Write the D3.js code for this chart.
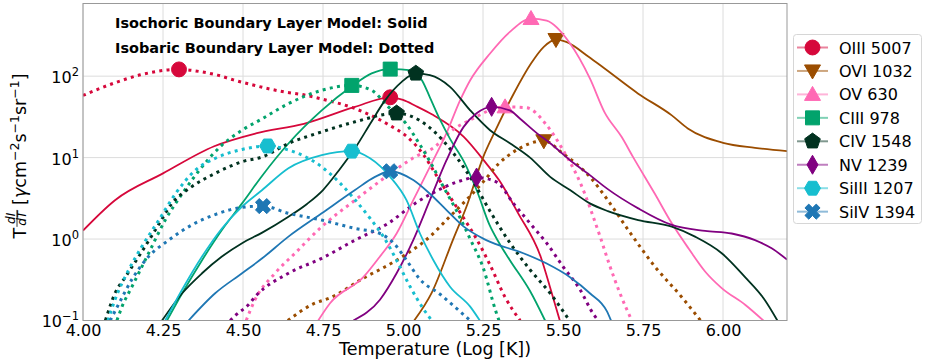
<!DOCTYPE html>
<html>
<head>
<meta charset="utf-8">
<script src="https://cdn.jsdelivr.net/npm/d3@7"></script>
<style>
  body { margin: 0; background: #fff; }
  svg { font-family: "DejaVu Sans", sans-serif; }
</style>
</head>
<body>
<div id="chart"></div>
<script>
// ---- data: [log T, T dI/dT] ----
const ions = ['OIII 5007', 'OVI 1032', 'OV 630', 'CIII 978', 'CIV 1548', 'NV 1239', 'SiIII 1207', 'SiIV 1394'];

const oiiiSolid = [[4.00,1.27],[4.10,3.0],[4.25,6.4],[4.41,13.8],[4.54,19.8],[4.69,26],[4.85,42],[4.96,55],[5.00,51],[5.04,43],[5.09,34],[5.19,18],[5.26,8.5],[5.30,5.3],[5.36,2.07],[5.43,0.61],[5.465,0.216],[5.49,0.1]];
const oiiiDotted = [[4.00,58],[4.10,83],[4.18,104],[4.30,121],[4.37,113],[4.42,103],[4.47,90],[4.52,80],[4.58,70],[4.63,64],[4.69,59],[4.75,52],[4.85,40],[4.95,26],[5.02,17],[5.063,11],[5.105,6.0],[5.147,3.3],[5.19,1.8],[5.23,1.0],[5.27,0.5],[5.32,0.19],[5.366,0.1]];

const oviSolid = [[5.035,0.1],[5.09,0.22],[5.157,1.0],[5.20,2.6],[5.25,10],[5.29,22],[5.345,60],[5.40,143],[5.44,229],[5.478,282],[5.51,263],[5.58,173],[5.63,124],[5.735,61],[5.84,33],[5.89,22.8],[6.00,15.2],[6.10,13.2],[6.20,12.0]];
const oviDotted = [[4.64,0.1],[4.72,0.16],[4.772,0.19],[4.876,0.33],[4.98,0.55],[5.084,1.07],[5.147,1.9],[5.19,2.8],[5.25,5.0],[5.30,8.5],[5.355,12.4],[5.44,16.1],[5.50,11.2],[5.584,5.8],[5.64,3.0],[5.704,1.29],[5.787,0.46],[5.87,0.196],[5.93,0.1]];

const ovSolid = [[4.735,0.1],[4.772,0.163],[4.876,0.34],[4.928,0.61],[4.98,1.17],[5.032,3.0],[5.084,7.7],[5.136,20],[5.178,50],[5.21,89],[5.272,190],[5.334,350],[5.40,510],[5.449,480],[5.522,252],[5.584,94],[5.63,36],[5.683,18],[5.72,10],[5.787,3.6],[5.84,1.56],[5.892,0.77],[5.944,0.40],[5.996,0.25],[6.07,0.155],[6.126,0.1]];
const ovDotted = [[4.51,0.1],[4.5375,0.18],[4.60,0.38],[4.6625,0.67],[4.746,1.42],[4.85,3.0],[4.954,6.1],[5.0375,10.2],[5.1,13.6],[5.147,20.7],[5.21,29],[5.319,42],[5.386,41],[5.449,25],[5.50,12.4],[5.553,5.0],[5.616,1.07],[5.647,0.46],[5.678,0.216],[5.715,0.1]];

const ciiiSolid = [[4.2625,0.1],[4.31,0.216],[4.372,0.55],[4.434,1.29],[4.497,2.74],[4.56,6.0],[4.642,14.9],[4.746,38],[4.84,75],[4.902,108],[4.96,122],[5.027,118],[5.06,88],[5.084,55],[5.116,29],[5.147,17],[5.19,9],[5.23,4.0],[5.27,1.5],[5.30,0.9],[5.334,0.55],[5.397,0.23],[5.444,0.1]];
const ciiiDotted = [[4.106,0.1],[4.122,0.148],[4.153,0.26],[4.205,0.67],[4.257,1.71],[4.31,3.6],[4.372,7.7],[4.434,14.2],[4.497,21.7],[4.56,30],[4.642,46],[4.746,67],[4.84,77],[4.902,67],[4.954,42],[5.01,26],[5.05,15],[5.084,9],[5.126,4.4],[5.168,2.2],[5.21,1.0],[5.25,0.45],[5.29,0.13],[5.30,0.1]];

const civSolid = [[4.247,0.1],[4.31,0.216],[4.372,0.38],[4.434,0.61],[4.497,0.89],[4.56,1.2],[4.642,1.88],[4.70,2.7],[4.75,4.0],[4.80,7.0],[4.85,13],[4.90,27],[4.94,48],[4.996,85],[5.04,108],[5.084,103],[5.147,74],[5.21,38],[5.272,21.7],[5.334,15],[5.397,10],[5.46,5.8],[5.522,4.0],[5.584,2.74],[5.64,2.2],[5.735,1.71],[5.84,1.42],[5.9125,1.07],[5.996,0.67],[6.069,0.34],[6.13,0.18],[6.17,0.1]];
const civDotted = [[4.07,0.1],[4.10,0.216],[4.132,0.34],[4.174,0.61],[4.226,1.29],[4.278,2.74],[4.34,4.4],[4.413,6.4],[4.497,8.9],[4.56,10.2],[4.642,14.9],[4.746,20.7],[4.85,27.5],[4.98,35],[5.074,25],[5.126,16],[5.168,10],[5.22,5],[5.272,2.2],[5.334,0.9],[5.397,0.42],[5.46,0.216],[5.52,0.1]];

const nvSolid = [[4.845,0.1],[4.928,0.18],[4.98,0.38],[5.032,0.97],[5.084,3.0],[5.136,9.3],[5.19,24],[5.23,35],[5.277,42],[5.334,38],[5.366,30],[5.418,20],[5.46,15],[5.522,9.3],[5.584,6.1],[5.64,4.1],[5.735,2.38],[5.84,1.49],[5.944,1.26],[6.027,1.17],[6.10,0.97],[6.152,0.77],[6.20,0.56]];
const nvDotted = [[4.46,0.1],[4.478,0.117],[4.516,0.155],[4.54,0.2],[4.642,0.38],[4.746,0.58],[4.85,0.97],[4.954,1.56],[5.0375,2.74],[5.1,3.8],[5.168,5.0],[5.23,5.7],[5.293,5.0],[5.345,2.74],[5.397,1.56],[5.449,0.89],[5.50,0.46],[5.553,0.24],[5.595,0.12],[5.61,0.1]];

const siiiiSolid = [[4.257,0.1],[4.31,0.24],[4.372,0.61],[4.434,1.35],[4.497,2.5],[4.56,4.0],[4.642,7.4],[4.746,10.7],[4.84,12],[4.897,9.8],[4.96,5.8],[5.011,3.0],[5.053,1.17],[5.095,0.55],[5.147,0.26],[5.21,0.148],[5.24,0.1]];
const siiiiDotted = [[4.078,0.1],[4.10,0.18],[4.143,0.42],[4.184,0.81],[4.237,1.71],[4.289,3.6],[4.351,7.0],[4.413,9.8],[4.497,12.6],[4.577,13.9],[4.642,12.4],[4.746,7.7],[4.80,5.0],[4.845,3.2],[4.897,1.8],[4.94,1.05],[4.98,0.55],[5.02,0.27],[5.063,0.14],[5.09,0.1]];

const sivSolid = [[4.33,0.1],[4.413,0.216],[4.497,0.38],[4.56,0.58],[4.642,1.07],[4.746,2.07],[4.85,4.0],[4.9125,5.8],[4.96,6.8],[5.032,5.3],[5.084,3.6],[5.136,2.27],[5.19,1.42],[5.26,0.97],[5.376,0.67],[5.449,0.50],[5.522,0.34],[5.584,0.216],[5.637,0.13],[5.65,0.1]];
const sivDotted = [[4.085,0.1],[4.11,0.155],[4.153,0.32],[4.205,0.61],[4.268,0.97],[4.34,1.49],[4.413,2.0],[4.497,2.45],[4.5625,2.54],[4.642,2.07],[4.746,1.71],[4.85,1.35],[4.928,1.17],[4.98,0.81],[5.011,0.55],[5.053,0.32],[5.116,0.21],[5.168,0.14],[5.21,0.1]];

const xTicks = [4.00, 4.25, 4.50, 4.75, 5.00, 5.25, 5.50, 5.75, 6.00];
const yTicks = [0.1, 1, 10, 100];
const titleLines = ['Isochoric Boundary Layer Model: Solid', 'Isobaric Boundary Layer Model: Dotted'];

// styles per ion
const colors = ['#d6083b', '#9b4d00', '#ff69b4', '#02a36c', '#013220', '#800080', '#17becf', '#1f77b4'];
const shapes = ['circle', 'triDown', 'triUp', 'square', 'pentagon', 'thinDiamond', 'hexagon', 'xFilled'];

const series = ions.map((name, i) => ({
  name,
  color: colors[i],
  shape: shapes[i],
  solid: [oiiiSolid, oviSolid, ovSolid, ciiiSolid, civSolid, nvSolid, siiiiSolid, sivSolid][i],
  dotted: [oiiiDotted, oviDotted, ovDotted, ciiiDotted, civDotted, nvDotted, siiiiDotted, sivDotted][i]
}));

const width = 926, height = 362;
const plot = { left: 83, right: 787, top: 3.5, bottom: 320.5 };

const svg = d3.select('#chart').append('svg')
  .attr('width', width)
  .attr('height', height);

const x = d3.scaleLinear().domain([4.0, 6.2]).range([plot.left, plot.right]);
const y = d3.scaleLog().domain([0.1, 780]).range([plot.bottom, plot.top]);

// grid
svg.append('g').selectAll('line').data(xTicks).join('line')
  .attr('x1', d => x(d)).attr('x2', d => x(d))
  .attr('y1', plot.top).attr('y2', plot.bottom)
  .attr('stroke', '#dcdcdc').attr('stroke-width', 1);
svg.append('g').selectAll('line').data(yTicks).join('line')
  .attr('x1', plot.left).attr('x2', plot.right)
  .attr('y1', d => y(d)).attr('y2', d => y(d))
  .attr('stroke', '#dcdcdc').attr('stroke-width', 1);

svg.append('defs').append('clipPath').attr('id', 'clip')
  .append('rect')
  .attr('x', plot.left).attr('y', plot.top)
  .attr('width', plot.right - plot.left).attr('height', plot.bottom - plot.top);

// marker shapes, centred on 0,0
function poly(pts) { return 'M' + pts.map(p => p.join(',')).join('L') + 'Z'; }
function regular(n, r, start) {
  const pts = [];
  for (let k = 0; k < n; k++) {
    const a = start + k * 2 * Math.PI / n;
    pts.push([r * Math.cos(a), r * Math.sin(a)]);
  }
  return poly(pts);
}
function markerPath(shape) {
  switch (shape) {
    case 'circle': return d3.symbol(d3.symbolCircle, 175)();
    case 'triDown': return poly([[0, 8], [8, -6], [-8, -6]]);
    case 'triUp': return poly([[0, -8], [8, 6], [-8, 6]]);
    case 'square': return poly([[-7, -7], [7, -7], [7, 7], [-7, 7]]);
    case 'pentagon': return regular(5, 8.2, -Math.PI / 2);
    case 'thinDiamond': return poly([[0, -9.5], [5.5, 0], [0, 9.5], [-5.5, 0]]);
    case 'hexagon': return regular(6, 8, 0);
    case 'xFilled': {
      const w = 2.7, L = 8;
      const p = [[-w,-L],[w,-L],[w,-w],[L,-w],[L,w],[w,w],[w,L],[-w,L],[-w,w],[-L,w],[-L,-w],[-w,-w]];
      const c = Math.SQRT1_2;
      return poly(p.map(([a, b]) => [(a - b) * c, (a + b) * c]));
    }
  }
}

const line = d3.line()
  .x(d => x(d[0]))
  .y(d => y(d[1]))
  .curve(d3.curveMonotoneX);

const curves = svg.append('g').attr('clip-path', 'url(#clip)');

series.forEach(s => {
  [['solid', null, 1.8], ['dotted', '3,4.3', 3]].forEach(([key, dash, sw]) => {
    const data = s[key];
    curves.append('path')
      .datum(data)
      .attr('d', line)
      .attr('fill', 'none')
      .attr('stroke', s.color)
      .attr('stroke-width', sw)
      .attr('stroke-dasharray', dash);
    // marker at the peak of each curve
    const peak = d3.greatest(data, d => d[1]);
    curves.append('path')
      .attr('d', markerPath(s.shape))
      .attr('transform', `translate(${x(peak[0])},${y(peak[1])})`)
      .attr('fill', s.color)
      .attr('stroke', s.color)
      .attr('stroke-width', 1);
  });
});

// frame
svg.append('rect')
  .attr('x', plot.left).attr('y', plot.top)
  .attr('width', plot.right - plot.left).attr('height', plot.bottom - plot.top)
  .attr('fill', 'none').attr('stroke', '#999').attr('stroke-width', 1);

// axes
const xAxis = svg.append('g')
  .attr('transform', `translate(0,${plot.bottom})`)
  .call(d3.axisBottom(x).tickValues(xTicks).tickFormat(d3.format('.2f')).tickSize(0).tickPadding(4));
xAxis.select('.domain').remove();
xAxis.selectAll('text').style('font-size', '16px').style('font-family', '"DejaVu Sans", sans-serif').attr('fill', '#000');

const yAxis = svg.append('g')
  .attr('transform', `translate(${plot.left},0)`)
  .call(d3.axisLeft(y).tickValues(yTicks).tickSize(0).tickPadding(4));
yAxis.select('.domain').remove();
yAxis.selectAll('text')
  .style('font-size', '16px').style('font-family', '"DejaVu Sans", sans-serif').attr('fill', '#000')
  .attr('dy', '0.4em')
  .each(function(d) {
    const t = d3.select(this).text(null);
    t.append('tspan').text('10');
    t.append('tspan').attr('dy', -7).style('font-size', '11.5px')
      .text(String(Math.round(Math.log10(d))).replace('-', '\u2212'));
  });

svg.append('text')
  .attr('x', (plot.left + plot.right) / 2).attr('y', 355)
  .attr('text-anchor', 'middle')
  .style('font-size', '17.5px')
  .text('Temperature (Log [K])');

// y label: T dI/dT [γ cm^-2 s^-1 sr^-1]
const yl = svg.append('g').attr('transform', 'translate(26,156) rotate(-90)');
const ylIn = yl.append('g');
let cx = 0;
const tT = ylIn.append('text').attr('x', 0).style('font-size', '17.5px').text('T');
cx += tT.node().getComputedTextLength() + 1;
const num = ylIn.append('text').attr('y', -11).style('font-size', '12px').style('font-style', 'italic').text('dI');
const den = ylIn.append('text').attr('y', 0).style('font-size', '12px').style('font-style', 'italic').text('dT');
const fw = Math.max(num.node().getComputedTextLength(), den.node().getComputedTextLength()) + 2;
num.attr('x', cx + fw / 2).attr('text-anchor', 'middle');
den.attr('x', cx + fw / 2).attr('text-anchor', 'middle');
ylIn.append('line').attr('x1', cx).attr('x2', cx + fw).attr('y1', -9).attr('y2', -9)
  .attr('stroke', '#000').attr('stroke-width', 0.8);
cx += fw + 5;
const rest = ylIn.append('text').attr('x', cx).style('font-size', '17.5px');
const parts = [['[', 0], ['\u03b3', 0, true], ['cm', 0], ['\u22122', 1], ['s', 0], ['\u22121', 1], ['sr', 0], ['\u22121', 1], [']', 0]];
let up = false;
parts.forEach(([txt, sup, ital]) => {
  const ts = rest.append('tspan').text(txt);
  if (sup && !up) { ts.attr('dy', -7).style('font-size', '12.5px'); up = true; }
  else if (!sup && up) { ts.attr('dy', 7); up = false; }
  if (ital) ts.style('font-style', 'italic');
});
cx += rest.node().getComputedTextLength();
ylIn.attr('transform', `translate(${-cx / 2},0)`);

// title lines, sized so the first line spans the same width as in the source
const titles = svg.append('g').selectAll('text').data(titleLines).join('text')
  .attr('x', 115).attr('y', (d, i) => 28 + i * 25)
  .style('font-size', '14.5px').style('font-weight', 'bold')
  .text(d => d);
const tw = titles.node().getComputedTextLength();
titles.style('font-size', (14.5 * 313 / tw).toFixed(2) + 'px');

// legend
const legend = svg.append('g');
legend.append('rect')
  .attr('x', 793.5).attr('y', 34.5).attr('width', 128).attr('height', 189).attr('rx', 3)
  .attr('fill', '#fff').attr('stroke', '#d6d6d6');
const rows = legend.selectAll('g.row').data(series).join('g')
  .attr('class', 'row')
  .attr('transform', (d, i) => `translate(0,${47.5 + i * 23.45})`);
rows.append('line')
  .attr('x1', 797).attr('x2', 828).attr('y1', 0).attr('y2', 0)
  .attr('stroke', d => d.color).attr('stroke-opacity', 0.5).attr('stroke-width', 2);
rows.append('path')
  .attr('d', d => markerPath(d.shape))
  .attr('transform', 'translate(812.5,0)')
  .attr('fill', d => d.color).attr('stroke', d => d.color);
rows.append('text')
  .attr('x', 839).attr('y', 6)
  .style('font-size', '16px')
  .text(d => d.name);
</script>
</body>
</html>
